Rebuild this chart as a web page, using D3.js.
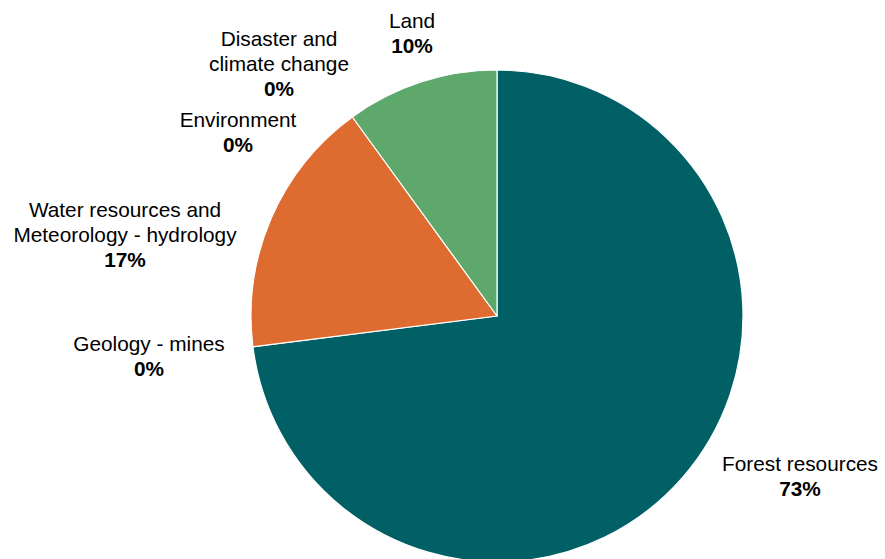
<!DOCTYPE html>
<html>
<head>
<meta charset="utf-8">
<script src="https://cdn.jsdelivr.net/npm/d3@7"></script>
<style>
  html, body { margin: 0; padding: 0; background: #ffffff; }
  svg { display: block; }
  text { font-family: "Liberation Sans", Arial, sans-serif; fill: #000; }
</style>
</head>
<body>
<svg id="chart" width="885" height="559"></svg>
<script>
// Share of items by field
const categories = [
  ["Forest resources"],
  ["Geology - mines"],
  ["Water resources and", "Meteorology - hydrology"],
  ["Environment"],
  ["Disaster and", "climate change"],
  ["Land"]
];
const shares = [73, 0, 17, 0, 0, 10];
const percentLabels = ["73%", "0%", "17%", "0%", "0%", "10%"];
const sliceColors = ["#006066", "#6b8e3a", "#de6b2f", "#4a7fb5", "#8a8a8a", "#5fa86b"];

// Label anchor points (centre of the first text line's baseline)
const labelAnchors = [
  [800, 471],
  [149, 351],
  [125, 217],
  [238, 127],
  [279, 46],
  [412, 28]
];

const width = 885, height = 559;
const cx = 497, cy = 316, radius = 246;
const lineGap = 25;

const svg = d3.select("#chart");

const data = shares.map((v, i) => ({
  lines: categories[i], value: v, pct: percentLabels[i],
  color: sliceColors[i], anchor: labelAnchors[i]
}));

const pie = d3.pie().value(d => d.value).sort(null);
const arc = d3.arc().innerRadius(0).outerRadius(radius);

const g = svg.append("g").attr("transform", `translate(${cx},${cy})`);
g.selectAll("path")
  .data(pie(data).filter(d => d.data.value > 0))
  .join("path")
  .attr("d", arc)
  .attr("fill", d => d.data.color)
  .attr("stroke", "#ffffff")
  .attr("stroke-width", 1.2)
  .attr("stroke-linejoin", "round");

const labels = svg.selectAll("g.label")
  .data(data)
  .join("g")
  .attr("class", "label")
  .attr("transform", d => `translate(${d.anchor[0]},${d.anchor[1]})`);

labels.each(function(d) {
  const t = d3.select(this).append("text")
    .attr("text-anchor", "middle")
    .style("font-size", "20.8px");
  d.lines.forEach((ln, i) => {
    t.append("tspan").attr("x", 0).attr("y", i * lineGap).text(ln);
  });
  t.append("tspan")
    .attr("x", 0)
    .attr("y", d.lines.length * lineGap)
    .style("font-weight", "bold")
    .text(d.pct);
});
</script>
</body>
</html>
